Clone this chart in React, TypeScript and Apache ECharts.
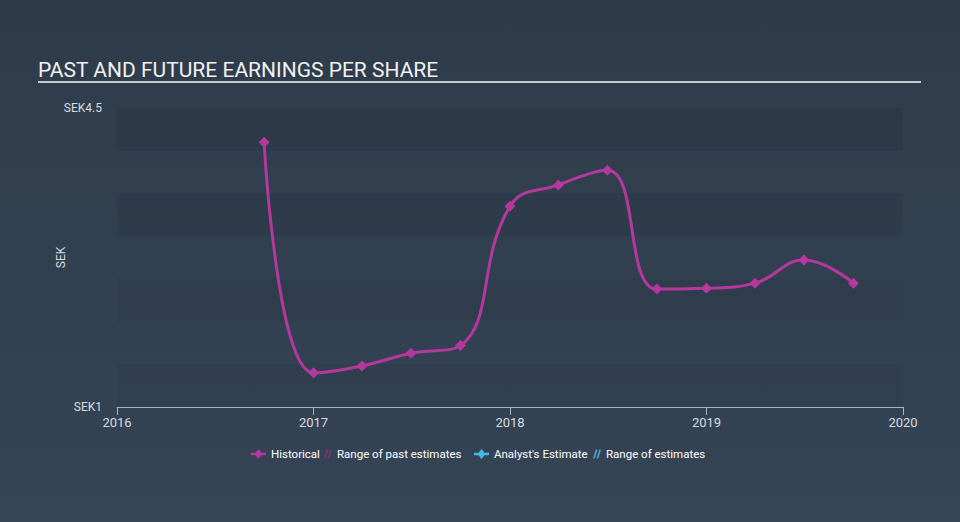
import { useEffect, useRef } from 'react';
import * as echarts from 'echarts';

const periodEnds = [
  '2016-09-30', '2016-12-31', '2017-03-31', '2017-06-30', '2017-09-30',
  '2017-12-31', '2018-03-31', '2018-06-30', '2018-09-30', '2018-12-31',
  '2019-03-31', '2019-06-30', '2019-09-30',
];
const historicalEps = [4.10, 1.40, 1.48, 1.63, 1.72, 3.35, 3.60, 3.77, 2.38, 2.39, 2.45, 2.72, 2.45];
const yearTicks = [2016, 2017, 2018, 2019, 2020];
const yMinLabel = 'SEK1';
const yMaxLabel = 'SEK4.5';
const titleText = 'PAST AND FUTURE EARNINGS PER SHARE';
const legendNames = ['Historical', 'Range of past estimates', "Analyst's Estimate", 'Range of estimates'];

const toDecimalYear = (s: string) => {
  const d = new Date(s + 'T00:00:00Z');
  const y = d.getUTCFullYear();
  const start = Date.UTC(y, 0, 1);
  const end = Date.UTC(y + 1, 0, 1);
  return y + (d.getTime() - start) / (end - start);
};

const HATCH = 'path://M0,10 L2,10 L5,0 L3,0 Z M4,10 L6,10 L9,0 L7,0 Z';
const LINE_DIAMOND = 'path://M7.5,0 L11.5,5 L7.5,10 L3.5,5 Z M0,3.8 L15,3.8 L15,6.2 L0,6.2 Z';

export default function App() {
  const ref = useRef<HTMLDivElement>(null);
  useEffect(() => {
    if (!ref.current) return;
    const chart = echarts.init(ref.current, null, { renderer: 'svg' });
    const points = periodEnds.map((d, i) => [toDecimalYear(d) + 0.0027, historicalEps[i]]);
    const legendText = { color: '#ffffff', fontSize: 11.5, fontFamily: 'Roboto' };
    const legendBase = { top: 448, padding: 0, itemHeight: 10, textStyle: legendText };
    chart.setOption({
      animation: false,
      backgroundColor: {
        type: 'linear', x: 0, y: 0, x2: 0, y2: 1,
        colorStops: [
          { offset: 0, color: '#2e3b4a' },
          { offset: 1, color: '#354556' },
        ],
      },
      textStyle: { fontFamily: 'Roboto' },
      title: {
        text: titleText,
        left: 33,
        top: 54,
        textStyle: { color: '#f2f2f2', fontSize: 21, fontWeight: 'normal', fontFamily: 'Roboto' },
      },
      graphic: [
        {
          type: 'line',
          shape: { x1: 38, y1: 82, x2: 921, y2: 82 },
          style: { stroke: '#c3c8cd', lineWidth: 2 },
        },
      ],
      legend: [
        { ...legendBase, data: [{ name: legendNames[0], icon: LINE_DIAMOND }], left: 251, itemWidth: 15 },
        { ...legendBase, data: [{ name: legendNames[1], icon: HATCH }], left: 324, itemWidth: 8 },
        { ...legendBase, data: [{ name: legendNames[2], icon: LINE_DIAMOND }], left: 474, itemWidth: 15 },
        { ...legendBase, data: [{ name: legendNames[3], icon: HATCH }], left: 593, itemWidth: 8 },
      ],
      grid: { left: 117, right: 57, top: 108, bottom: 115 },
      xAxis: {
        type: 'value',
        min: yearTicks[0],
        max: yearTicks[yearTicks.length - 1],
        interval: 1,
        axisLine: { show: true, lineStyle: { color: '#aab4be', width: 1 } },
        axisTick: { show: true, length: 8, lineStyle: { color: '#aab4be' } },
        axisLabel: { color: '#d6dbe0', fontSize: 13, margin: 9, formatter: (v: number) => String(v) },
        splitLine: { show: false },
      },
      yAxis: {
        type: 'value',
        min: 1,
        max: 4.5,
        interval: 0.5,
        name: 'SEK',
        nameLocation: 'middle',
        nameGap: 50,
        nameRotate: 90,
        nameMoveOverlap: false,
        nameTextStyle: { color: '#d6dbe0', fontSize: 12 },
        axisLine: { show: false },
        axisTick: { show: false },
        axisLabel: {
          color: '#d6dbe0',
          fontSize: 12,
          margin: 15,
          formatter: (v: number) => (v === 1 ? yMinLabel : v === 4.5 ? yMaxLabel : ''),
        },
        splitLine: { show: false },
        splitArea: {
          show: true,
          areaStyle: { color: ['rgba(10,20,30,0.07)', 'rgba(255,255,255,0.0)'] },
        },
      },
      series: [
        {
          name: legendNames[0],
          type: 'line',
          data: points,
          smooth: 0.45,
          symbol: 'diamond',
          symbolSize: 11,
          color: '#b4389d',
          lineStyle: { color: '#b4389d', width: 3 },
          itemStyle: { color: '#b4389d' },
        },
        {
          name: legendNames[1],
          type: 'line',
          data: [],
          color: '#7d3576',
          itemStyle: { color: '#7d3576' },
        },
        {
          name: legendNames[2],
          type: 'line',
          data: [],
          symbol: 'diamond',
          symbolSize: 11,
          color: '#45b9e6',
          lineStyle: { color: '#45b9e6', width: 3 },
          itemStyle: { color: '#45b9e6' },
        },
        {
          name: legendNames[3],
          type: 'line',
          data: [],
          color: '#4f9fcb',
          itemStyle: { color: '#4f9fcb' },
        },
      ],
    });
    return () => chart.dispose();
  }, []);
  return (
    <div
      ref={ref}
      style={{ position: 'fixed', left: 0, top: 0, width: 960, height: 522 }}
    />
  );
}
